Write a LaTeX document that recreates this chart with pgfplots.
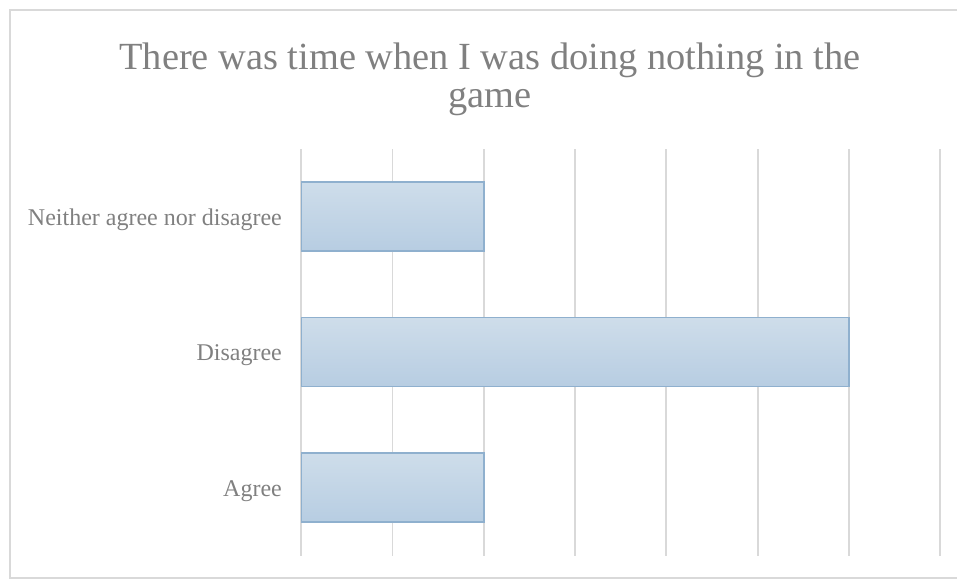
\documentclass[border=0pt]{standalone}
\usepackage{fontspec}
\setmainfont{Liberation Serif}
\usepackage{pgfplots}
\pgfplotsset{compat=1.18}
\definecolor{txtgray}{HTML}{808080}
\definecolor{gridgray}{HTML}{D9D9D9}
\definecolor{framegray}{HTML}{D9D9D9}
\definecolor{bartop}{HTML}{CEDDEA}
\definecolor{barbot}{HTML}{B7CDE2}
\definecolor{baredge}{HTML}{8FB0CE}
\pgfplotsset{mybar/.style={draw=baredge, line width=1.2pt, top color=bartop, bottom color=barbot}}

\begin{document}
\begin{tikzpicture}[x=0.75pt,y=0.75pt]
\draw[framegray, line width=1pt] (10,2) rectangle (960,570);
\node[text=txtgray, align=center, font=\fontsize{28.8}{28.5}\selectfont] at (490,501) {There was time when I was doing nothing in the\\game};
\begin{axis}[
    at={(330,18)}, anchor=south west,
    scale only axis,
    width=479.25pt, height=305.25pt,
    xbar, bar shift=0pt,
    bar width=51.75pt,
    xmin=0, xmax=7,
    ymin=-0.5, ymax=2.5,
    xtick={0,...,7},
    xticklabels={},
    ytick={0,1,2},
    yticklabels={Agree,Disagree,Neither agree nor disagree},
    yticklabel style={text=txtgray, font=\fontsize{18}{20}\selectfont, xshift=-6.75pt, yshift=-2.25pt},
    tick style={draw=none},
    axis line style={draw=none},
    xmajorgrids,
    major grid style={gridgray, line width=1.4pt},
]
\addplot[mybar] coordinates {(2,0)};
\addplot[mybar] coordinates {(6,1)};
\addplot[mybar] coordinates {(2,2)};
\end{axis}
\pgfresetboundingbox
\useasboundingbox (0,0) rectangle (957,580);
\end{tikzpicture}
\end{document}
